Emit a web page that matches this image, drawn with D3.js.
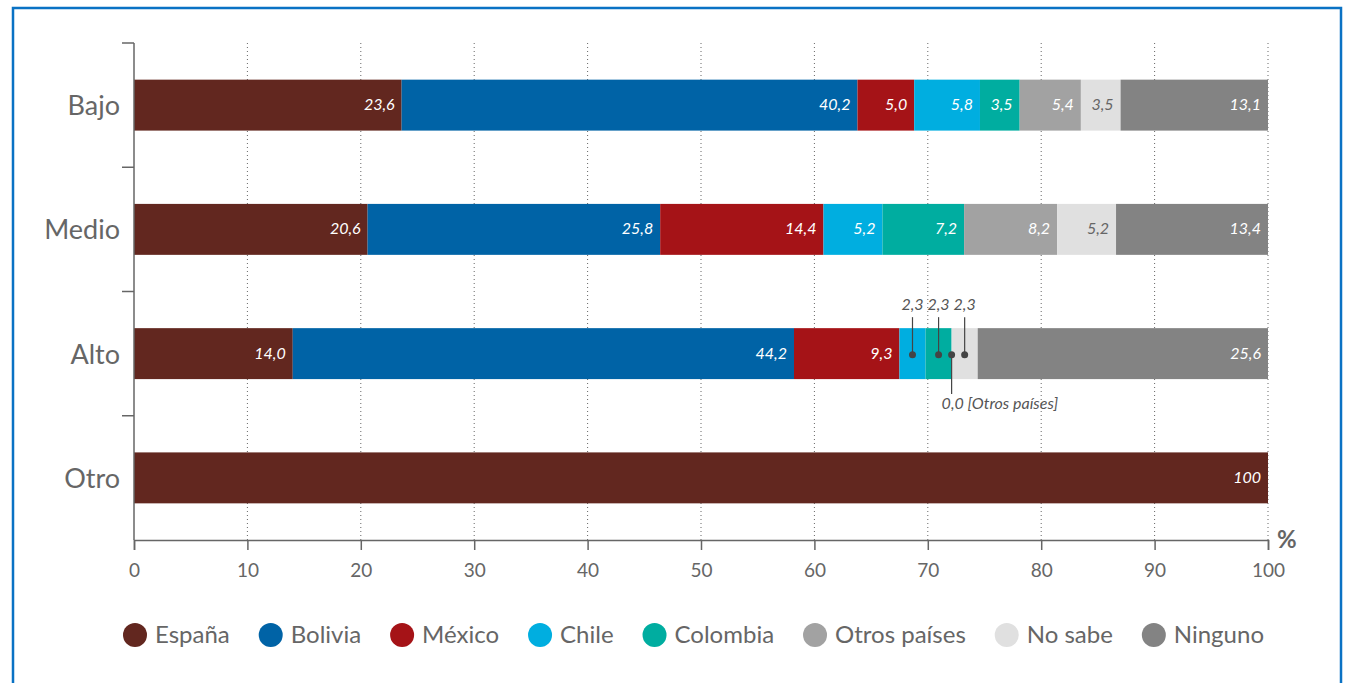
<!DOCTYPE html>
<html>

<head>
    <meta charset="UTF-8">
    <title>Origen por nivel</title>
    <script src="https://d3js.org/d3.v7.min.js"></script>
    <style>
        body {
            margin: 0;
            background-color: white;
        }
        text {
            font-family: Lato, "Open Sans", sans-serif;
        }
    </style>
</head>

<body>
    <div id="chart"></div>
    <script>
        var categories = ['Bajo', 'Medio', 'Alto', 'Otro'];
        var seriesNames = ['España', 'Bolivia', 'México', 'Chile', 'Colombia', 'Otros países', 'No sabe', 'Ninguno'];
        var espana = [23.6, 20.6, 14.0, 100];
        var bolivia = [40.2, 25.8, 44.2, 0];
        var mexico = [5.0, 14.4, 9.3, 0];
        var chile = [5.8, 5.2, 2.3, 0];
        var colombia = [3.5, 7.2, 2.3, 0];
        var otrosPaises = [5.4, 8.2, 0.0, 0];
        var noSabe = [3.5, 5.2, 2.3, 0];
        var ninguno = [13.1, 13.4, 25.6, 0];
        var xTicks = [0, 10, 20, 30, 40, 50, 60, 70, 80, 90, 100];

        var seriesValues = [espana, bolivia, mexico, chile, colombia, otrosPaises, noSabe, ninguno];
        var colors = ['#62271f', '#0063a6', '#a51317', '#00aee0', '#00ada0', '#a2a2a2', '#e0e0e0', '#838383'];

        var width = 1348, height = 683;
        var margin = { left: 134, right: 80, top: 43, bottom: 143 };

        var svg = d3.select('#chart').append('svg')
            .attr('width', width)
            .attr('height', height);

        // blue frame
        svg.append('rect')
            .attr('x', 13).attr('y', 8)
            .attr('width', 1328).attr('height', 700)
            .attr('fill', 'none')
            .attr('stroke', '#0a72c4')
            .attr('stroke-width', 2.5);

        var x = d3.scaleLinear().domain([0, 100]).range([margin.left, width - margin.right]);
        var y = d3.scaleBand().domain(categories)
            .range([margin.top, height - margin.bottom])
            .paddingInner(0.59).paddingOuter(0.295);

        // build the table for stacking
        var rows = categories.map(function(c, i) {
            var r = { cat: c };
            seriesNames.forEach(function(s, j) { r[s] = seriesValues[j][i]; });
            return r;
        });
        var stacked = d3.stack().keys(seriesNames)(rows);

        var fmt = function(v) {
            return v === 100 ? '100' : d3.format('.1f')(v).replace('.', ',');
        };

        // dotted grid
        svg.append('g').selectAll('line')
            .data(xTicks.slice(1))
            .enter().append('line')
            .attr('x1', function(d) { return x(d); })
            .attr('x2', function(d) { return x(d); })
            .attr('y1', margin.top)
            .attr('y2', height - margin.bottom)
            .attr('stroke', '#666')
            .attr('stroke-width', 1)
            .attr('stroke-dasharray', '1,3');

        // bars
        var layers = svg.append('g').selectAll('g')
            .data(stacked)
            .enter().append('g')
            .attr('fill', function(d, i) { return colors[i]; });

        layers.selectAll('rect')
            .data(function(d) { return d; })
            .enter().append('rect')
            .attr('x', function(d) { return x(d[0]); })
            .attr('y', function(d) { return y(d.data.cat); })
            .attr('width', function(d) { return Math.max(0, x(Math.min(100, d[1])) - x(d[0])); })
            .attr('height', y.bandwidth());

        // in-bar values
        stacked.forEach(function(layer, i) {
            layer.forEach(function(d) {
                var v = d.data[layer.key];
                if (v < 3) return;
                svg.append('text')
                    .attr('x', x(Math.min(100, d[1])) - 7)
                    .attr('y', y(d.data.cat) + y.bandwidth() / 2 + 5)
                    .attr('text-anchor', 'end')
                    .style('font-style', 'italic')
                    .style('font-size', '16px')
                    .attr('fill', layer.key === 'No sabe' ? '#666' : 'white')
                    .text(fmt(v));
            });
        });

        // callouts for small segments
        stacked.forEach(function(layer, i) {
            layer.forEach(function(d) {
                var v = d.data[layer.key];
                if (v >= 3 || d.data.cat === 'Otro') return;
                if (d.data.cat !== 'Alto' && v > 0) return;
                var cx = x((d[0] + d[1]) / 2);
                var cy = y(d.data.cat) + y.bandwidth() / 2 + 1;
                var g = svg.append('g');
                if (v > 0) {
                    g.append('line').attr('x1', cx).attr('x2', cx)
                        .attr('y1', cy).attr('y2', y(d.data.cat) - 11)
                        .attr('stroke', '#444').attr('stroke-width', 1.2);
                    g.append('text')
                        .attr('x', cx).attr('y', y(d.data.cat) - 18)
                        .attr('text-anchor', 'middle')
                        .style('font-style', 'italic').style('font-size', '16px')
                        .attr('fill', '#555')
                        .text(fmt(v));
                } else {
                    g.append('line').attr('x1', cx).attr('x2', cx)
                        .attr('y1', cy).attr('y2', y(d.data.cat) + y.bandwidth() + 15)
                        .attr('stroke', '#444').attr('stroke-width', 1.2);
                    g.append('text')
                        .attr('x', cx - 10).attr('y', y(d.data.cat) + y.bandwidth() + 30)
                        .style('font-style', 'italic').style('font-size', '16px')
                        .attr('fill', '#555')
                        .text(fmt(v) + ' [' + layer.key + ']');
                }
                g.append('circle').attr('cx', cx).attr('cy', cy).attr('r', 3.5).attr('fill', '#444');
            });
        });

        // y axis with ticks between categories
        var yAxis = svg.append('g');
        yAxis.append('line')
            .attr('x1', margin.left).attr('x2', margin.left)
            .attr('y1', margin.top).attr('y2', height - margin.bottom)
            .attr('stroke', '#666').attr('stroke-width', 1.5);
        var bounds = categories.map(function(c) { return y(c) - y.step() * y.paddingInner() / 2; });
        yAxis.selectAll('.ytick')
            .data(bounds)
            .enter().append('line')
            .attr('x1', margin.left - 12).attr('x2', margin.left)
            .attr('y1', function(d) { return d; })
            .attr('y2', function(d) { return d; })
            .attr('stroke', '#666').attr('stroke-width', 1.5);
        yAxis.selectAll('.ylab')
            .data(categories)
            .enter().append('text')
            .attr('x', margin.left - 14)
            .attr('y', function(d) { return y(d) + y.bandwidth() / 2 + 10; })
            .attr('text-anchor', 'end')
            .style('font-size', '27px')
            .attr('fill', '#666')
            .text(function(d) { return d; });

        // x axis
        var xAxis = svg.append('g')
            .attr('transform', 'translate(0,' + (height - margin.bottom) + ')')
            .call(d3.axisBottom(x).tickValues(xTicks).tickSize(10).tickPadding(14).tickFormat(d3.format('d')));
        xAxis.select('.domain').attr('stroke', '#666').attr('stroke-width', 1.5);
        xAxis.selectAll('.tick line').attr('stroke', '#666').attr('stroke-width', 1.5);
        xAxis.selectAll('.tick text')
            .attr('fill', '#666')
            .style('font-size', '19px')
            .style('font-family', 'Lato, sans-serif');

        svg.append('text')
            .attr('x', x(100) + 9)
            .attr('y', height - margin.bottom + 8)
            .style('font-size', '24px')
            .style('font-weight', 'bold')
            .attr('fill', '#666')
            .text('%');

        // legend
        var legend = svg.append('g');
        var items = legend.selectAll('g')
            .data(seriesNames)
            .enter().append('g');
        items.append('circle')
            .attr('cx', 12).attr('cy', 0).attr('r', 12)
            .attr('fill', function(d, i) { return colors[i]; });
        items.append('text')
            .attr('x', 32).attr('y', 8)
            .style('font-size', '24px')
            .attr('fill', '#666')
            .text(function(d) { return d; });
        var widths = [];
        items.each(function() { widths.push(this.getBBox().width); });
        var left = 123, right = 1264;
        var gap = (right - left - d3.sum(widths)) / (widths.length - 1);
        var pos = left;
        items.attr('transform', function(d, i) {
            var t = 'translate(' + pos + ',' + 635 + ')';
            pos += widths[i] + gap;
            return t;
        });
    </script>
</body>

</html>
